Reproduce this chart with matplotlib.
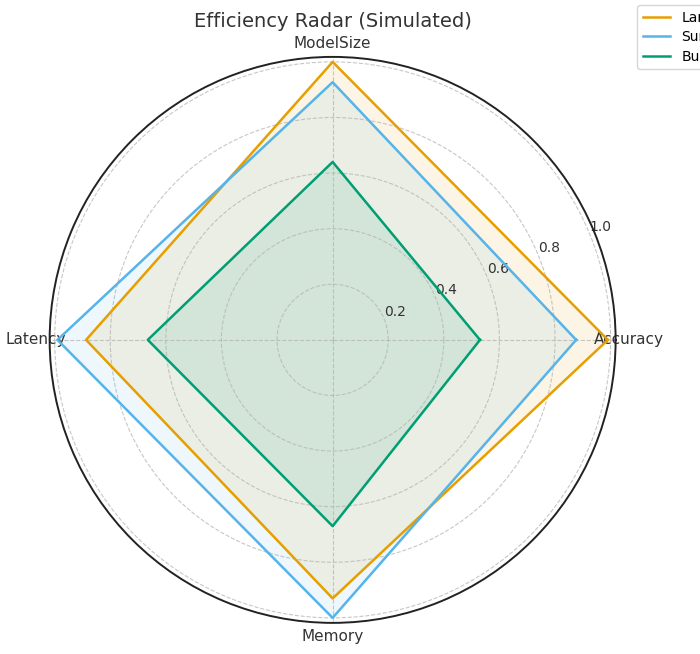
import matplotlib
matplotlib.use("Agg")
import matplotlib.pyplot as plt
import numpy as np

# Axes of the radar, counter-clockwise from the right
categories = ["Accuracy", "ModelSize", "Latency", "Memory"]

# Normalised scores
series_names = ["Large", "Surrogate", "Budget"]
large_vals = [0.99, 1.00, 0.887, 0.93]
surrogate_vals = [0.876, 0.927, 0.99, 1.00]
budget_vals = [0.53, 0.64, 0.665, 0.67]

radial_ticks = [0.2, 0.4, 0.6, 0.8, 1.0]
colors = ["#E69F00", "#56B4E9", "#009E73"]

text_color = "#333333"

fig = plt.figure(figsize=(7.0, 6.54), dpi=100)
ax = fig.add_axes([0.0709, 0.0476, 0.8086, 0.8654], projection="polar")

angles = np.linspace(0, 2 * np.pi, len(categories), endpoint=False)
angles_closed = np.concatenate([angles, angles[:1]])

for name, vals, color in zip(series_names, [large_vals, surrogate_vals, budget_vals], colors):
    v = np.concatenate([vals, vals[:1]])
    ax.plot(angles_closed, v, color=color, linewidth=1.8, label=name)
    ax.fill(angles_closed, v, color=color, alpha=0.1)

ax.set_xticks(angles)
ax.set_xticklabels(categories, fontsize=11, color=text_color)
ax.tick_params(axis="x", pad=-0.8)
ax.set_ylim(0, 1.018)
ax.set_yticks(radial_ticks)
ax.set_yticklabels([f"{t:.1f}" for t in radial_ticks], fontsize=10, color=text_color)
ax.set_rlabel_position(22.5)

ax.grid(True, linestyle="--", color="#b0b0b0", linewidth=0.8, alpha=0.7)
ax.spines["polar"].set_color("#222222")
ax.spines["polar"].set_linewidth(1.4)

ax.set_title("Efficiency Radar (Simulated)", fontsize=14, color=text_color, y=1.053, pad=0)

fig.legend(
    loc="upper left",
    bbox_to_anchor=(637 / 700, 649 / 654),
    borderaxespad=0,
    fontsize=10,
    labelspacing=0.4,
)

fig.savefig("out.png", dpi=100)
